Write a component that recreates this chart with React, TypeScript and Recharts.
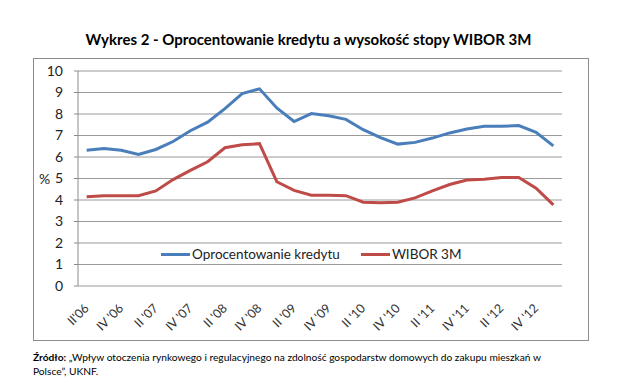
import React from "react";
import { LineChart, Line, XAxis, YAxis, CartesianGrid } from "recharts";

const quarters = [
  "II'06", "III '06", "IV '06", "I '07", "II '07", "III '07", "IV '07",
  "I '08", "II '08", "III '08", "IV '08", "I '09", "II '09", "III '09",
  "IV '09", "I '10", "II '10", "III '10", "IV '10", "I '11", "II '11",
  "III '11", "IV '11", "I '12", "II '12", "III '12", "IV '12", "I '13",
];

const kredyt = [
  6.31, 6.39, 6.31, 6.12, 6.35, 6.72, 7.22, 7.62, 8.25, 8.95, 9.17, 8.28,
  7.65, 8.02, 7.92, 7.75, 7.27, 6.9, 6.6, 6.68, 6.88, 7.12, 7.3, 7.43,
  7.43, 7.46, 7.15, 6.52,
];

const wibor = [
  4.15, 4.2, 4.2, 4.2, 4.42, 4.95, 5.38, 5.78, 6.43, 6.57, 6.62, 4.85,
  4.45, 4.22, 4.22, 4.2, 3.9, 3.87, 3.9, 4.1, 4.42, 4.72, 4.93, 4.97,
  5.05, 5.05, 4.55, 3.77,
];

const yTicks = [0, 1, 2, 3, 4, 5, 6, 7, 8, 9, 10];

const seriesNames = { kredyt: "Oprocentowanie kredytu", wibor: "WIBOR 3M" };
const colors = { kredyt: "#4A7EBB", wibor: "#BE4B48" };

const data = quarters.map((q, i) => ({ x: i, q, kredyt: kredyt[i], wibor: wibor[i] }));
const boundaryTicks = quarters.map((_, i) => i - 0.5).concat([quarters.length - 0.5]);
const labelTicks = quarters.map((_, i) => i).filter((i) => i % 2 === 0);

const FONT = "Lato, 'Open Sans', sans-serif";

const EmptyTick = () => <g />;

const RotTick = (props: any) => {
  const { x, y, payload } = props;
  const label = quarters[payload.value];
  return (
    <g transform={`translate(${x + 3},${y + 15})`}>
      <text
        textAnchor="end"
        transform="rotate(-45)"
        fontSize={12.5}
        fontFamily={FONT}
        fill="#333"
      >
        {label}
      </text>
    </g>
  );
};

export default function App() {
  return (
    <div style={{ position: "absolute", left: 0, top: 0, width: 617, height: 384, background: "#fff", fontFamily: FONT }}>
      <div
        style={{
          position: "absolute",
          left: 0,
          top: 30,
          width: 617,
          textAlign: "center",
          fontWeight: 700,
          fontSize: 15,
          color: "#000",
        }}
      >
        Wykres 2 - Oprocentowanie kredytu a wysokość stopy WIBOR 3M
      </div>
      <div
        style={{
          position: "absolute",
          left: 33,
          top: 58,
          width: 556,
          height: 283,
          border: "1px solid #8c8c8c",
          boxSizing: "border-box",
        }}
      />
      <div style={{ position: "absolute", left: 0, top: 0 }}>
        <LineChart width={617} height={384} data={data} margin={{ top: 71, right: 55, bottom: 38, left: 0 }}>
          <CartesianGrid vertical={false} stroke="#9a9a9a" xAxisId="t" />
          <XAxis
            xAxisId="t"
            type="number"
            dataKey="x"
            domain={[-0.5, quarters.length - 0.5]}
            ticks={boundaryTicks}
            tick={EmptyTick}
            tickSize={5}
            height={0}
            axisLine={{ stroke: "#8c8c8c" }}
            tickLine={{ stroke: "#8c8c8c" }}
            interval={0}
          />
          <XAxis
            xAxisId="l"
            type="number"
            dataKey="x"
            domain={[-0.5, quarters.length - 0.5]}
            ticks={labelTicks}
            tick={RotTick}
            tickLine={false}
            axisLine={false}
            height={60}
            interval={0}
          />
          <YAxis
            domain={[0, 10]}
            ticks={yTicks}
            width={78}
            tickSize={4}
            tickMargin={11}
            interval={0}
            axisLine={{ stroke: "#8c8c8c" }}
            tickLine={{ stroke: "#8c8c8c" }}
            tick={{ fontSize: 14, fill: "#222", fontFamily: FONT }}
          />
          <Line
            xAxisId="t"
            type="linear"
            dataKey="kredyt"
            name={seriesNames.kredyt}
            stroke={colors.kredyt}
            strokeWidth={3}
            dot={false}
            isAnimationActive={false}
          />
          <Line
            xAxisId="t"
            type="linear"
            dataKey="wibor"
            name={seriesNames.wibor}
            stroke={colors.wibor}
            strokeWidth={3}
            dot={false}
            isAnimationActive={false}
          />
        </LineChart>
      </div>
      <div
        style={{
          position: "absolute",
          left: 161,
          top: 246,
          display: "flex",
          alignItems: "center",
          fontSize: 13.5,
          color: "#222",
          background: "#fff",
          paddingRight: 4,
        }}
      >
        <span style={{ display: "inline-block", width: 29, height: 3, background: colors.kredyt, marginRight: 2 }} />
        <span>{seriesNames.kredyt}</span>
        <span style={{ display: "inline-block", width: 29, height: 3, background: colors.wibor, marginLeft: 21, marginRight: 2 }} />
        <span>{seriesNames.wibor}</span>
      </div>
      <div
        style={{
          position: "absolute",
          left: 39,
          top: 170,
          fontSize: 14,
          color: "#222",
        }}
      >
        %
      </div>
      <div
        style={{
          position: "absolute",
          left: 33,
          top: 350,
          width: 570,
          fontSize: 10.2,
          lineHeight: "14px",
          color: "#000",
        }}
      >
        <b>Źródło:</b> „Wpływ otoczenia rynkowego i regulacyjnego na zdolność gospodarstw domowych do zakupu mieszkań w
        <br />
        Polsce”, UKNF.
      </div>
    </div>
  );
}
